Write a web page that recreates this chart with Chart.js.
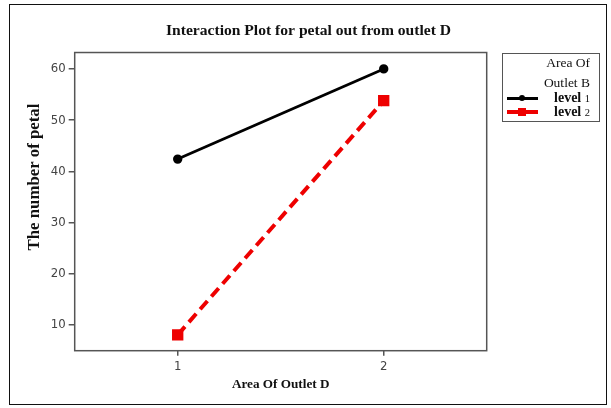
<!DOCTYPE html>
<html>
<head>
<meta charset="utf-8">
<script src="https://cdn.jsdelivr.net/npm/chart.js@4.4.1/dist/chart.umd.min.js"></script>
<style>
  body { margin: 0; background: #fff; }
  #wrap { position: relative; width: 611px; height: 408px; }
  #frame { position: absolute; left: 9px; top: 4px; width: 598px; height: 401px; border: 1.5px solid #111; box-sizing: border-box; pointer-events: none; }
  #legend { position: absolute; left: 502px; top: 53px; width: 98px; height: 69px; border: 1.5px solid #555; box-sizing: border-box; font-family: "Liberation Serif", serif; color: #111; }
  #legend .hd { position: absolute; right: 9px; font-size: 13.5px; line-height: 16px; }
  #legend .row { position: absolute; left: 0; right: 9px; height: 14px; }
  #legend .name { position: absolute; right: 0; top: 0; font-size: 14px; line-height: 14px; font-weight: bold; }
  #legend .name small { font-weight: normal; font-size: 10.5px; }
  #legend .ln { position: absolute; left: 4px; width: 31px; }
  #legend .mk { position: absolute; }
</style>
</head>
<body>
<div id="wrap">
  <canvas id="myChart" width="611" height="408"></canvas>
  <div id="frame"></div>
  <div id="legend"></div>
</div>
<script>
const categories = [1, 2];               // Area Of Outlet D
const level1 = [42.4, 60];
const level2 = [8.1, 53.8];
const seriesNames = ["level 1", "level 2"];
const seriesColors = ["#000000", "#ee0000"];
const yTicks = [10, 20, 30, 40, 50, 60];
const xTicks = [1, 2];

const serif = "'Liberation Serif', 'Times New Roman', serif";
const sans = "'DejaVu Sans Condensed', 'DejaVu Sans', sans-serif";

// box round the plot + rotated y title
const framePlugin = {
    id: "framePlugin",
    afterDraw(chart) {
        const a = chart.chartArea;
        const ctx = chart.ctx;
        ctx.save();
        ctx.strokeStyle = "#555";
        ctx.lineWidth = 1.5;
        ctx.strokeRect(a.left, a.top, a.right - a.left, a.bottom - a.top);
        ctx.translate(35, 177);
        ctx.rotate(-Math.PI / 2);
        ctx.font = "bold 16.8px " + serif;
        ctx.fillStyle = "#111";
        ctx.textAlign = "center";
        ctx.textBaseline = "middle";
        ctx.fillText("The number of petal", 0, 0);
        ctx.restore();
    }
};

new Chart("myChart", {
    type: "line",
    data: {
        datasets: [{
            label: seriesNames[0],
            data: categories.map((c, i) => ({ x: c, y: level1[i] })),
            borderColor: seriesColors[0],
            backgroundColor: seriesColors[0],
            borderWidth: 2.8,
            pointStyle: "circle",
            pointRadius: 3.3,
            clip: false
        }, {
            label: seriesNames[1],
            data: categories.map((c, i) => ({ x: c, y: level2[i] })),
            borderColor: seriesColors[1],
            backgroundColor: seriesColors[1],
            borderWidth: 4,
            borderDash: [11, 6],
            pointStyle: "rect",
            pointRadius: 5.2,
            clip: false
        }]
    },
    options: {
        responsive: false,
        animation: false,
        layout: { padding: { left: 6, right: 0, top: 0, bottom: 0 } },
        plugins: {
            legend: { display: false },
            tooltip: { enabled: false },
            title: {
                display: true,
                text: "Interaction Plot for petal out from outlet D",
                color: "#111",
                font: { family: serif, size: 15.6, weight: "bold" },
                padding: { top: 21.4, bottom: 12.4 }
            }
        },
        scales: {
            x: {
                type: "linear",
                min: 0.5,
                max: 2.5,
                afterBuildTicks: s => { s.ticks = xTicks.map(v => ({ value: v })); },
                afterFit: s => { s.height = 57.3; },
                border: { display: false },
                grid: { drawOnChartArea: false, drawTicks: true, tickLength: 5, color: "#555", lineWidth: 1.5 },
                ticks: { color: "#444", padding: 3, font: { family: sans, size: 13 } },
                title: {
                    display: true,
                    text: "Area Of Outlet D",
                    color: "#111",
                    font: { family: serif, size: 13.2, weight: "bold" },
                    padding: { top: 4, bottom: 15 }
                }
            },
            y: {
                min: 5,
                max: 63.2,
                afterBuildTicks: s => { s.ticks = yTicks.map(v => ({ value: v })); },
                afterFit: s => { s.width = 68.7; },
                border: { display: false },
                grid: { drawOnChartArea: false, drawTicks: true, tickLength: 6, color: "#555", lineWidth: 1.5 },
                ticks: { color: "#444", padding: 3, font: { family: sans, size: 13 } }
            },
            y2: {
                position: "right",
                display: true,
                afterFit: s => { s.width = 124.3; },
                border: { display: false },
                grid: { display: false },
                ticks: { display: false }
            }
        }
    },
    plugins: [framePlugin]
});

// legend box on the right
const legend = document.getElementById("legend");
legend.innerHTML = '<div class="hd" style="top:1px">Area Of</div><div class="hd" style="top:21px">Outlet B</div>';
const rowTops = [37, 51];
seriesNames.forEach((name, i) => {
    const parts = name.split(" ");
    const row = document.createElement("div");
    row.className = "row";
    row.style.top = rowTops[i] + "px";
    const thick = i === 0 ? 3 : 4;
    const mk = i === 0
        ? '<div class="mk" style="left:16px;top:4px;width:6px;height:6px;border-radius:50%;background:' + seriesColors[i] + '"></div>'
        : '<div class="mk" style="left:15px;top:3px;width:8px;height:8px;background:' + seriesColors[i] + '"></div>';
    row.innerHTML = '<div class="ln" style="top:' + (7 - thick / 2) + 'px;height:' + thick + 'px;background:' + seriesColors[i] + '"></div>' + mk +
        '<div class="name">' + parts[0] + ' <small>' + parts[1] + '</small></div>';
    legend.appendChild(row);
});
</script>
</body>
</html>
